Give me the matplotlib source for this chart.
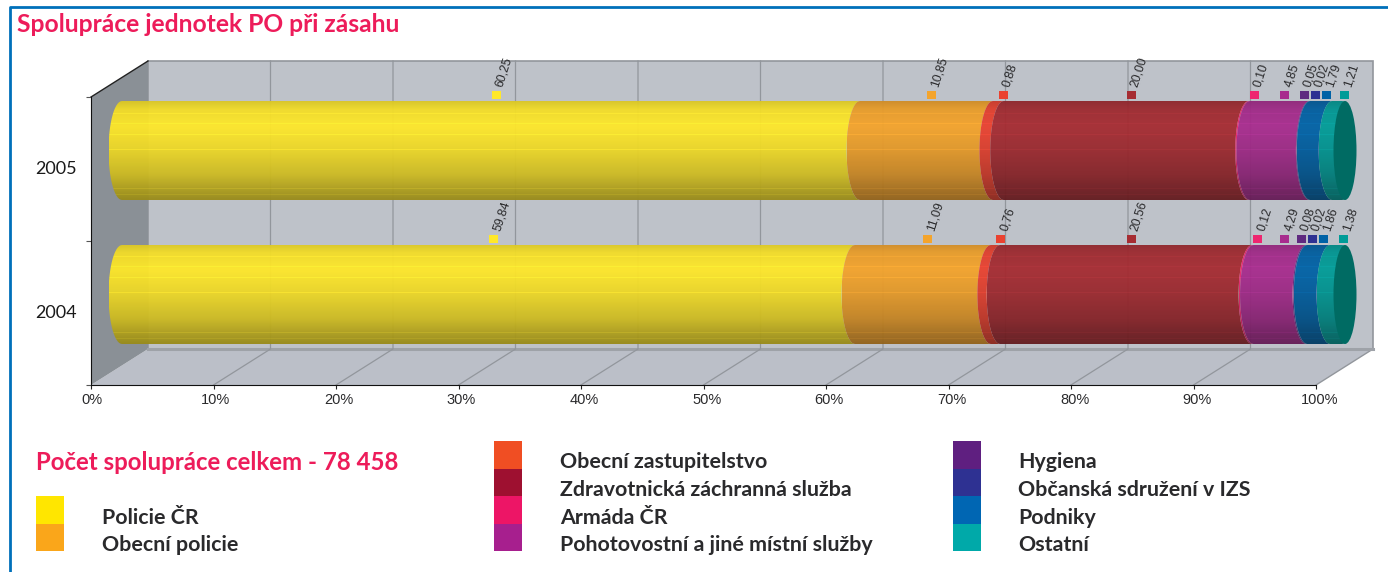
import matplotlib
matplotlib.use("Agg")
import matplotlib.pyplot as plt
import numpy as np
from matplotlib.colors import to_rgb
from matplotlib.patches import Ellipse, Polygon, Rectangle
from matplotlib.transforms import ScaledTranslation

W, H = 1388, 572

years = ["2004", "2005"]
year_pos = [0.5, 1.5]
names = ["Policie ČR", "Obecní policie", "Obecní zastupitelstvo",
         "Zdravotnická záchranná služba", "Armáda ČR",
         "Pohotovostní a jiné místní služby", "Hygiena",
         "Občanská sdružení v IZS", "Podniky", "Ostatní"]
values_2004 = [59.84, 11.09, 0.76, 20.56, 0.12, 4.29, 0.08, 0.02, 1.86, 1.38]
values_2005 = [60.25, 10.85, 0.88, 20.00, 0.10, 4.85, 0.05, 0.02, 1.79, 1.21]
labels_2004 = ["59,84", "11,09", "0,76", "20,56", "0,12", "4,29", "0,08", "0,02", "1,86", "1,38"]
labels_2005 = ["60,25", "10,85", "0,88", "20,00", "0,10", "4,85", "0,05", "0,02", "1,79", "1,21"]
x_ticks = list(range(0, 101, 10))

bar_colors = ["#FFE82A", "#F4A42C", "#EA4230", "#A62C32", "#EE2670",
              "#A82C8E", "#5F2A80", "#2E3192", "#0062A6", "#009C98"]
swatch_colors = ["#FFE600", "#FAA61A", "#F04E23", "#9E1030", "#ED1566",
                 "#A71F8E", "#5F1F80", "#2E3192", "#0066B3", "#00A9A9"]
PINK = "#ED1C5A"
INK = "#2A2A2C"
WALL = "#BEC2C9"
FLOOR = "#BBBFC8"
SIDE = "#8A9096"
GRID = "#92969C"

# px -> data, front plane is 1225 px wide and 288 px high
px_x = 100 / 1225
px_y = 2 / 288
depth_x, depth_y = 57 * px_x, 36 * px_y
bar_x, bar_y = 31 * px_x, 18.5 * px_y
half_h = 49.5 * px_y
arc_w = 13.5 * px_x
mark_x = 36 * px_x
mark_y = 74.5 * px_y
# the small hygiene value is pushed left in the source so it clears its neighbour
nudge = {6: -0.85}

fig = plt.figure(figsize=(W / 100, H / 100), dpi=100, facecolor="white")
ax = fig.add_axes([91 / W, 1 - 385 / H, 1225 / W, 288 / H])
ax.set_facecolor("none")


def fx(px):
    return px / W


def fy(px):
    return 1 - px / H


def cylinder_shade():
    rows = np.linspace(0, 1, 100)
    shade = np.interp(rows, [0, 0.08, 0.25, 0.5, 0.75, 0.92, 1],
                      [0.86, 0.95, 1.0, 0.92, 0.80, 0.66, 0.60])
    for row, up in [(12, 0.05), (22, 0.05), (33, 0.06), (48, 0.06), (88, 0.06), (94, 0.05)]:
        shade[row] += up
    return shade


def arc(x, yc, side=-1, n=30):
    t = np.linspace(-np.pi / 2, np.pi / 2, n)
    return np.column_stack([x + side * arc_w * np.cos(t), yc + half_h * np.sin(t)])


def draw_bar(values, labels, y):
    yc = y + bar_y
    start = 0
    for i, v in enumerate(values):
        end = start + v
        last = i == len(values) - 1
        left = arc(bar_x + start, yc)
        # last piece runs on under the end cap so no gap shows there
        if last:
            right = arc(bar_x + end - 5 * px_x, yc, side=1)[::-1]
        else:
            right = arc(bar_x + end, yc)[::-1]
        clip = Polygon(np.vstack([left, right]), closed=True, transform=ax.transData,
                       facecolor="none", edgecolor="none", clip_on=False)
        ax.add_patch(clip)
        rgb = np.array(to_rgb(bar_colors[i]))
        img = np.clip(cylinder_shade()[:, None, None] * rgb[None, None, :], 0, 1)
        im = ax.imshow(img, extent=(bar_x + start - arc_w, bar_x + end + arc_w, yc - half_h, yc + half_h),
                       aspect="auto", origin="upper", interpolation="nearest",
                       alpha=0.95, zorder=3 + i * 0.01)
        im.set_clip_box(fig.bbox)
        im.set_clip_path(clip)
        mid = start + v / 2 + nudge.get(i, 0)
        ax.add_patch(Rectangle((mark_x + mid - 4.5 * px_x, y + mark_y - 4 * px_y), 9 * px_x, 8 * px_y,
                               facecolor=rgb, edgecolor="none", clip_on=False, zorder=5))
        ax.annotate(labels[i], (mark_x + mid, y + mark_y), xytext=(6.5, 4), textcoords="offset points",
                    rotation=72, rotation_mode="anchor", ha="left", va="bottom",
                    fontsize=8.7, family="Liberation Sans", color=INK, zorder=6,
                    annotation_clip=False)
        start = end
    ax.add_patch(Ellipse((bar_x + start - 2 * px_x, yc), 23 * px_x, 2 * half_h, facecolor="#006B63",
                         edgecolor="none", clip_on=False, zorder=4))


# box of the chart
ax.add_patch(Rectangle((depth_x, depth_y), 100, 2, facecolor=WALL, edgecolor=GRID, lw=1.2,
                       clip_on=False, zorder=0))
ax.add_patch(Polygon([(0, 0), (100, 0), (100 + depth_x, depth_y), (depth_x, depth_y)],
                     facecolor=FLOOR, edgecolor="none", clip_on=False, zorder=0.5))
ax.add_patch(Polygon([(0, 0), (depth_x, depth_y), (depth_x, 2 + depth_y), (0, 2)],
                     facecolor=SIDE, edgecolor="none", clip_on=False, zorder=0.5))
ax.plot([0, depth_x], [2, 2 + depth_y], color="#222222", lw=1, clip_on=False, zorder=1)
ax.plot([100, 100 + depth_x], [0, depth_y], color=GRID, lw=1, clip_on=False, zorder=1)
ax.plot([depth_x, 100 + depth_x], [depth_y, depth_y], color="#9EA2A8", lw=2.2, clip_on=False, zorder=1)
for t in x_ticks[1:-1]:
    ax.plot([t, t + depth_x, t + depth_x], [0, depth_y, 2 + depth_y], color=GRID, lw=0.9,
            clip_on=False, zorder=1)

draw_bar(values_2004, labels_2004, year_pos[0])
draw_bar(values_2005, labels_2005, year_pos[1])

ax.set_xlim(0, 100)
ax.set_ylim(0, 2)
ax.spines["top"].set_visible(False)
ax.spines["right"].set_visible(False)
ax.spines["left"].set_color("#111111")
ax.spines["bottom"].set_color("#111111")
ax.spines["left"].set_zorder(2)
ax.spines["bottom"].set_zorder(2)
ax.set_xticks(x_ticks)
ax.set_xticklabels([f"{t}%" for t in x_ticks], family="Liberation Sans", fontsize=10.5, color=INK)
ax.set_yticks([0, 1, 2])
ax.set_yticklabels([])
ax.set_yticks(year_pos, minor=True)
ax.set_yticklabels(years, minor=True, family="Lato", fontsize=13, color="#1A1A1A")
ax.tick_params(axis="y", which="minor", length=0, pad=10)
ax.tick_params(axis="y", which="major", length=3.5, width=0.8, color="#555555")
ax.tick_params(axis="x", length=3, width=0.8, pad=3, color="#222222")
# labels in the source sit a little off their ticks
for t, lab in zip(x_ticks, ax.get_xticklabels()):
    shift = np.interp(t, [0, 10, 100], [0.7, 2.5, 4]) / 100
    lab.set_transform(lab.get_transform() + ScaledTranslation(shift, 0, fig.dpi_scale_trans))
for lab in ax.get_yticklabels(minor=True):
    lab.set_transform(lab.get_transform() + ScaledTranslation(0, 0.02, fig.dpi_scale_trans))

# page frame
fig.add_artist(plt.Line2D([fx(10), fx(10), fx(W)], [0, fy(7), fy(7)], color="#0070BA", lw=2))

fig.text(fx(17), fy(24), "Spolupráce jednotek PO při zásahu", family="Lato", weight="bold",
         fontsize=17.75, color=PINK, ha="left", va="center")
fig.text(fx(36), fy(462), "Počet spolupráce celkem - 78 458", family="Lato", weight="bold",
         fontsize=17.3, color=PINK, ha="left", va="center")

# legend, rows are 27.5 px apart and sit against each other
row_y = [441, 468.5, 496, 523.5]
legend_slots = [(36, 102, 2), (36, 102, 3), (494, 560, 0), (494, 560, 1), (494, 560, 2), (494, 560, 3),
                (953, 1018, 0), (953, 1018, 1), (953, 1018, 2), (953, 1018, 3)]
for name, color, (sx, tx, r) in zip(names, swatch_colors, legend_slots):
    y0 = row_y[r]
    fig.add_artist(Rectangle((fx(sx), fy(y0 + 27.5)), 28 / W, 27.5 / H, transform=fig.transFigure,
                             facecolor=color, edgecolor="none"))
    fig.text(fx(tx), fy(y0 + 21.5), name, family="Lato", weight="bold", fontsize=15.4, color=INK,
             ha="left", va="center")

fig.savefig("out.png", dpi=100)
